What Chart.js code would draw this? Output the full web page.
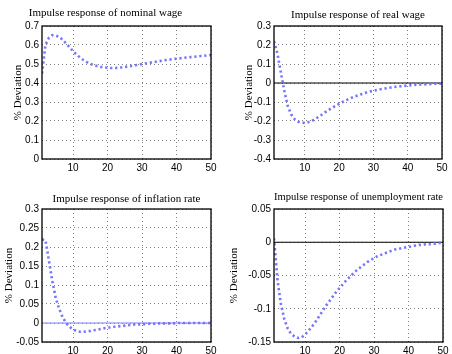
<!DOCTYPE html>
<html>
<head>
<meta charset="utf-8">
<script src="https://cdn.jsdelivr.net/npm/chart.js@4/dist/chart.umd.min.js"></script>
<style>
  html, body { margin: 0; padding: 0; background: #fff; }
  #wrap { position: relative; width: 452px; height: 354px; overflow: hidden; }
  #wrap canvas { position: absolute; }
</style>
</head>
<body>
<div id="wrap">
  <canvas id="c-nominal" width="226" height="177" style="left:0;top:0"></canvas>
  <canvas id="c-real" width="226" height="177" style="left:226px;top:0"></canvas>
  <canvas id="c-infl" width="226" height="177" style="left:0;top:177px"></canvas>
  <canvas id="c-unemp" width="226" height="177" style="left:226px;top:177px"></canvas>
</div>
<script>
/* ---- data ---- */
const periods = [1, 2, 3, 4, 5, 6, 7, 8, 9, 10, 11, 12, 13, 14, 15, 16, 17, 18, 19, 20,
  21, 22, 23, 24, 25, 26, 27, 28, 29, 30, 31, 32, 33, 34, 35, 36, 37, 38, 39, 40,
  41, 42, 43, 44, 45, 46, 47, 48, 49, 50];

const nominalWage = [0.45, 0.60, 0.638, 0.652, 0.65, 0.642, 0.627, 0.608, 0.588, 0.568,
  0.55, 0.534, 0.521, 0.51, 0.501, 0.494, 0.489, 0.485, 0.482, 0.48,
  0.479, 0.479, 0.48, 0.482, 0.484, 0.487, 0.49, 0.493, 0.496, 0.5,
  0.503, 0.506, 0.509, 0.512, 0.515, 0.518, 0.521, 0.523, 0.526, 0.528,
  0.53, 0.532, 0.534, 0.536, 0.538, 0.54, 0.542, 0.543, 0.545, 0.547];

const realWage = [0.22, 0.155, 0.055, -0.04, -0.12, -0.165, -0.19, -0.203, -0.209, -0.21,
  -0.206, -0.2, -0.19, -0.178, -0.166, -0.153, -0.141, -0.13, -0.12, -0.11,
  -0.1, -0.091, -0.083, -0.075, -0.068, -0.062, -0.056, -0.05, -0.045, -0.041,
  -0.037, -0.033, -0.03, -0.027, -0.024, -0.021, -0.019, -0.017, -0.015, -0.013,
  -0.012, -0.01, -0.009, -0.008, -0.007, -0.006, -0.005, -0.004, -0.004, -0.003];

const inflation = [0.22, 0.218, 0.165, 0.11, 0.065, 0.037, 0.015, 0.0, -0.01, -0.017,
  -0.021, -0.023, -0.023, -0.022, -0.021, -0.019, -0.018, -0.016, -0.014, -0.013,
  -0.011, -0.01, -0.009, -0.008, -0.007, -0.006, -0.005, -0.004, -0.004, -0.003,
  -0.003, -0.002, -0.002, -0.002, -0.001, -0.001, -0.001, -0.001, -0.001, 0,
  0, 0, 0, 0, 0, 0, 0, 0, 0, 0];

const unemployment = [0.006, -0.056, -0.093, -0.116, -0.13, -0.138, -0.142, -0.144, -0.143, -0.139,
  -0.133, -0.127, -0.12, -0.112, -0.104, -0.096, -0.089, -0.082, -0.075, -0.069,
  -0.063, -0.057, -0.052, -0.047, -0.042, -0.038, -0.034, -0.03, -0.027, -0.024,
  -0.021, -0.019, -0.017, -0.015, -0.013, -0.011, -0.01, -0.009, -0.008, -0.007,
  -0.006, -0.005, -0.004, -0.004, -0.003, -0.003, -0.002, -0.002, -0.001, -0.001];

// horizontal zero reference line (start / end period)
const zeroSpan = [1, 50];
const zeroLevel = [0, 0];

const xTicks       = [10, 20, 30, 40, 50];
const nominalTicks = [0, 0.1, 0.2, 0.3, 0.4, 0.5, 0.6, 0.7];
const realTicks    = [-0.4, -0.3, -0.2, -0.1, 0, 0.1, 0.2, 0.3];
const inflTicks    = [-0.05, 0, 0.05, 0.1, 0.15, 0.2, 0.25, 0.3];
const unempTicks   = [-0.15, -0.1, -0.05, 0, 0.05];

/* ---- style ---- */
const CURVE = '#7474ff';
const SERIF = "'Liberation Serif', 'Times New Roman', serif";
const SANS  = "'Liberation Sans', Arial, sans-serif";

// MATLAB-like box around the axes
const framePlugin = {
  id: 'frame',
  afterDatasetsDraw(chart) {
    const a = chart.chartArea;
    const ctx = chart.ctx;
    ctx.save();
    ctx.strokeStyle = '#000';
    ctx.lineWidth = 1.3;
    ctx.strokeRect(a.left, a.top, a.right - a.left, a.bottom - a.top);
    ctx.restore();
  },
};

function makePanel(id, p) {
  const datasets = [];
  if (p.zeroColor) {
    datasets.push({
      data: zeroSpan.map((x, i) => ({ x, y: zeroLevel[i] })),
      borderColor: p.zeroColor,
      borderWidth: 1,
      pointRadius: 0,
      order: 2,
    });
  }
  datasets.push({
    data: periods.map((x, i) => ({ x, y: p.values[i] })),
    borderColor: CURVE,
    borderWidth: 2.6,
    borderDash: [2.2, 2.8],
    borderCapStyle: 'butt',
    pointRadius: 0,
    tension: 0,
    order: 1,
  });

  return new Chart(document.getElementById(id), {
    type: 'line',
    data: { datasets },
    plugins: [framePlugin],
    options: {
      responsive: false,
      animation: false,
      layout: { padding: { left: 0, right: p.padRight, top: 0, bottom: 0 } },
      plugins: {
        legend: { display: false },
        tooltip: { enabled: false },
        title: {
          display: true,
          text: p.title,
          fullSize: p.fullTitle,
          color: '#000',
          font: { family: SERIF, size: 11, weight: 'normal' },
          padding: { top: p.titleTop, bottom: p.titleBottom },
        },
      },
      scales: {
        x: {
          type: 'linear',
          min: 1, max: 50,
          afterBuildTicks: s => { s.ticks = xTicks.map(v => ({ value: v })); },
          afterFit: s => { s.height = p.xHeight; },
          ticks: { color: '#000', font: { family: SANS, size: 10 }, padding: 3, maxRotation: 0 },
          grid: { color: 'rgba(0,0,0,0.5)', lineWidth: 1, drawTicks: false },
          border: { display: false, dash: [1, 3] },
        },
        y: {
          type: 'linear',
          min: p.ticks[0], max: p.ticks[p.ticks.length - 1],
          afterBuildTicks: s => { s.ticks = p.ticks.map(v => ({ value: v })); },
          afterFit: s => { s.width = p.yWidth; },
          ticks: { color: '#000', font: { family: SANS, size: 10 }, padding: 3, callback: v => String(v) },
          grid: { color: 'rgba(0,0,0,0.5)', lineWidth: 1, drawTicks: false },
          border: { display: false, dash: [1, 3] },
          title: {
            display: true,
            text: '% Deviation',
            color: '#000',
            font: { family: SERIF, size: 11 },
            padding: { top: p.yTitlePad, bottom: 0 },
          },
        },
      },
    },
  });
}

makePanel('c-nominal', {
  title: 'Impulse response of nominal wage', values: nominalWage, ticks: nominalTicks,
  fullTitle: true, titleTop: 6.4, titleBottom: 6.4, xHeight: 18, yWidth: 42, padRight: 15, yTitlePad: 11.4,
});
makePanel('c-real', {
  title: 'Impulse response of real wage', values: realWage, ticks: realTicks, zeroColor: '#000',
  fullTitle: false, titleTop: 8.4, titleBottom: 4.4, xHeight: 18, yWidth: 48, padRight: 10, yTitlePad: 16.4,
});
makePanel('c-infl', {
  title: 'Impulse response of inflation rate', values: inflation, ticks: inflTicks, zeroColor: '#7c7cff',
  fullTitle: false, titleTop: 15.1, titleBottom: 3.7, xHeight: 12, yWidth: 42, padRight: 15, yTitlePad: 2.7,
});
makePanel('c-unemp', {
  title: 'Impulse response of unemployment rate', values: unemployment, ticks: unempTicks, zeroColor: '#000',
  fullTitle: false, titleTop: 13.4, titleBottom: 5.4, xHeight: 12, yWidth: 48, padRight: 9, yTitlePad: 1.4,
});
</script>
</body>
</html>
